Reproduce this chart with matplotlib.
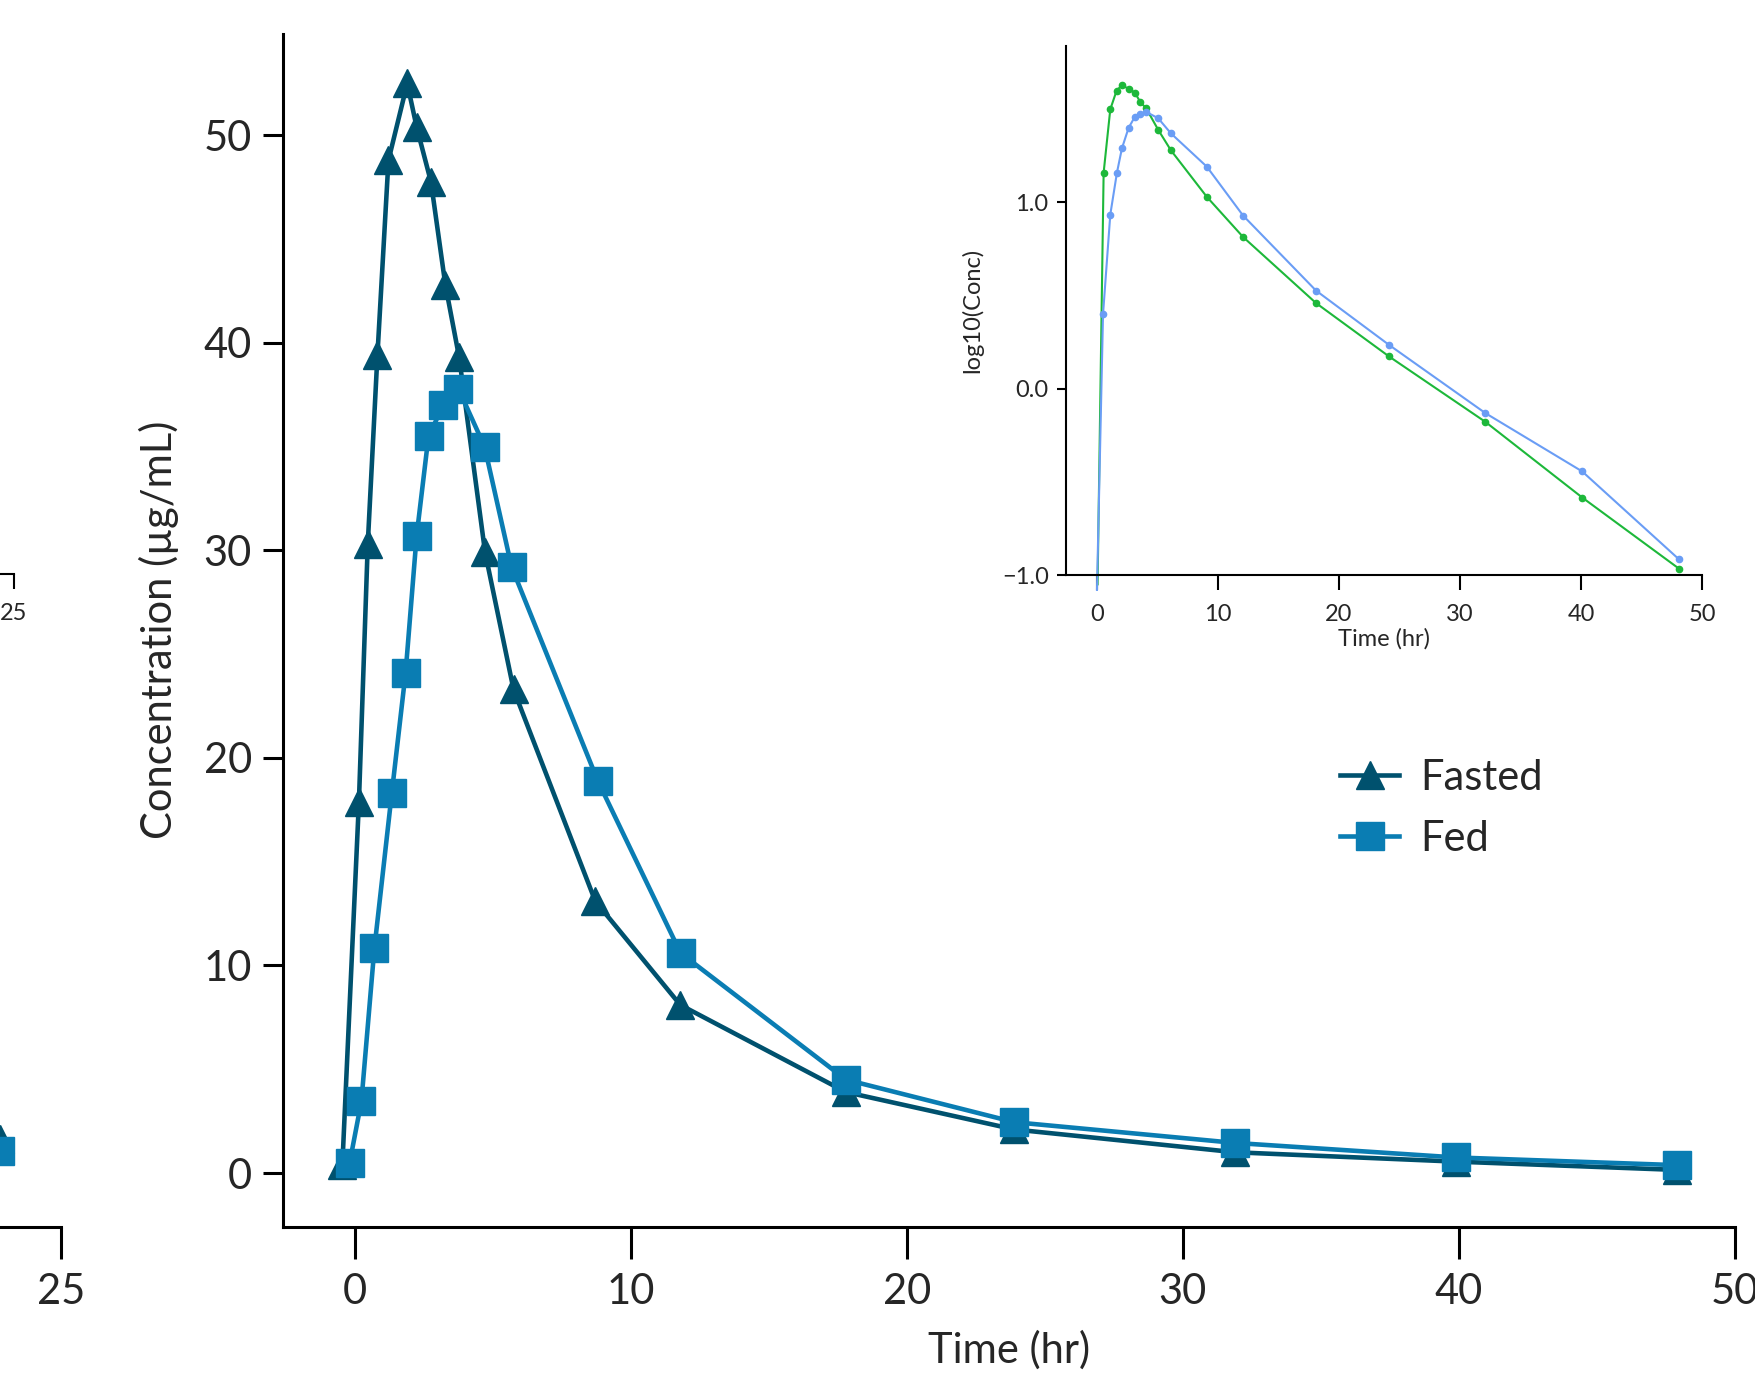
import matplotlib
matplotlib.use('Agg')
import matplotlib.pyplot as plt
from matplotlib.ticker import FuncFormatter

plt.rcParams['font.family'] = ['Lato', 'DejaVu Sans']
plt.rcParams['text.color'] = '#262626'
plt.rcParams['axes.labelcolor'] = '#262626'
plt.rcParams['xtick.color'] = 'black'
plt.rcParams['ytick.color'] = 'black'
plt.rcParams['xtick.labelcolor'] = '#262626'
plt.rcParams['ytick.labelcolor'] = '#262626'

W, H = 1755, 1373

# main panel: concentration vs time
fasted_time = [-0.44, 0.16, 0.48, 0.83, 1.23, 1.91, 2.25, 2.77, 3.29, 3.79,
               4.73, 5.76, 8.72, 11.8, 17.8, 23.9, 31.9, 39.9, 47.9]
fasted_conc = [0.4, 17.9, 30.3, 39.4, 48.8, 52.5, 50.4, 47.75, 42.8, 39.3,
               29.9, 23.3, 13.1, 8.1, 3.9, 2.1, 1.0, 0.55, 0.15]
fed_time = [-0.18, 0.25, 0.72, 1.35, 1.85, 2.25, 2.68, 3.22, 3.76,
            4.71, 5.69, 8.81, 11.81, 17.8, 23.9, 31.9, 39.9, 47.9]
fed_conc = [0.47, 3.46, 10.83, 18.3, 24.1, 30.7, 35.5, 37.0, 37.8,
            35.0, 29.2, 18.9, 10.6, 4.5, 2.45, 1.45, 0.75, 0.38]

# inset: log10 concentration
green_time = [0.05, 0.55, 1.1, 1.62, 2.06, 2.61, 3.13, 3.57, 4.07, 5.06,
              6.11, 9.08, 12.07, 18.1, 24.1, 32.1, 40.1, 48.1]
green_log = [-1.05, 1.16, 1.50, 1.60, 1.63, 1.61, 1.59, 1.54, 1.505, 1.39,
             1.28, 1.03, 0.815, 0.46, 0.175, -0.178, -0.584, -0.966]
blue_time = [0.0, 0.5, 1.1, 1.65, 2.06, 2.61, 3.13, 3.57, 4.07, 5.06,
             6.11, 9.08, 12.07, 18.1, 24.1, 32.1, 40.1, 48.1]
blue_log = [-1.08, 0.40, 0.935, 1.16, 1.29, 1.40, 1.46, 1.477, 1.486, 1.452,
            1.371, 1.192, 0.93, 0.527, 0.237, -0.131, -0.444, -0.916]

# neighbouring panel cut by the left edge (only its last point shows)
left_time = [23.9]
left_fasted = [1.64]
left_fed = [1.06]

main_xticks = [0, 10, 20, 30, 40, 50]
main_yticks = [0, 10, 20, 30, 40, 50]
inset_yticks = [-1.0, 0.0, 1.0]
left_xticks = [25]

FASTED = '#00516E'
FED = '#0A7DB3'
GREEN = '#1DB83A'
BLUE = '#6A9DF5'

SMALL = 17


def box(x0, y0, x1, y1):
    # pixel box (origin top-left) -> figure fraction
    return [x0 / W, 1 - y1 / H, (x1 - x0) / W, (y1 - y0) / H]


def big_style(ax):
    for s in ['top', 'right']:
        ax.spines[s].set_visible(False)
    for s in ['left', 'bottom']:
        ax.spines[s].set_linewidth(2.2)
        ax.spines[s].set_color('black')
    ax.tick_params(axis='y', length=14.4, width=2.2, labelsize=30, pad=8)
    ax.tick_params(axis='x', length=23, width=2.2, labelsize=30, pad=10)


def small_style(ax):
    for s in ['top', 'right']:
        ax.spines[s].set_visible(False)
    for s in ['left', 'bottom']:
        ax.spines[s].set_linewidth(1.5)
        ax.spines[s].set_color('black')
    ax.tick_params(axis='y', length=6.5, width=1.5, labelsize=SMALL, pad=6)
    ax.tick_params(axis='x', length=11, width=1.5, labelsize=SMALL, pad=10)


fig = plt.figure(figsize=(W / 100, H / 100), dpi=100)

# left remnant panels (mostly outside the picture)
axl = fig.add_axes(box(61 - 1452, 33.6, 61, 1227))
axl.patch.set_alpha(0)
big_style(axl)
axl.plot(left_time, left_fasted, color=FASTED, lw=3.3, marker='^', ms=20)
axl.plot(left_time, left_fed, color=FED, lw=3.3, marker='s', ms=20)
axl.set_xlim(-1.3, 25)
axl.set_ylim(-2.6, 54.9)
axl.set_xticks(left_xticks)
axl.set_yticks([])

axli = fig.add_axes(box(14 - 636, 46, 14, 574))
axli.patch.set_alpha(0)
small_style(axli)
axli.set_xlim(-1.3, 25)
axli.set_ylim(-1.0, 1.84)
axli.set_xticks(left_xticks)
axli.set_yticks([])

# main panel
ax = fig.add_axes(box(283, 33.6, 1735, 1227))
ax.patch.set_alpha(0)
big_style(ax)
ax.plot(fasted_time, fasted_conc, color=FASTED, lw=3.3, marker='^', ms=20,
        label='Fasted')
ax.plot(fed_time, fed_conc, color=FED, lw=3.3, marker='s', ms=20,
        label='Fed')
ax.set_xlim(-2.59, 50)
ax.set_ylim(-2.6, 54.9)
ax.set_xticks(main_xticks)
ax.set_yticks(main_yticks)
ax.set_xlabel('Time (hr)', fontsize=30, labelpad=14)
ax.set_ylabel('Concentration (µg/mL)', fontsize=30, labelpad=18)
ax.legend(loc='upper left', bbox_to_anchor=(1340 / W, 1 - 759 / H),
          bbox_transform=fig.transFigure, frameon=False, fontsize=30,
          handlelength=1.42, handletextpad=0.5, labelspacing=0.55,
          borderpad=0, borderaxespad=0)

# inset
axi = fig.add_axes(box(1066, 46, 1702, 575))
axi.patch.set_alpha(0)
small_style(axi)
# the first sample (log of ~0) runs below the axis, drawn without a dot
axi.plot(green_time, green_log, color=GREEN, lw=1.5, marker='o', ms=4.5,
         markevery=list(range(1, len(green_time))), clip_on=False)
axi.plot(blue_time, blue_log, color=BLUE, lw=1.5, marker='o', ms=4.5,
         markevery=list(range(1, len(blue_time))), clip_on=False)
axi.set_xlim(-2.56, 50)
axi.set_ylim(-1.0, 1.84)
axi.set_xticks(main_xticks)
axi.set_yticks(inset_yticks)
axi.yaxis.set_major_formatter(
    FuncFormatter(lambda v, p: f'{v:.1f}'.replace('-', '\u2212')))
axi.set_xlabel('Time (hr)', fontsize=SMALL, labelpad=2)
axi.set_ylabel('log10(Conc)', fontsize=SMALL, labelpad=13)

fig.savefig('out.png', dpi=100)
